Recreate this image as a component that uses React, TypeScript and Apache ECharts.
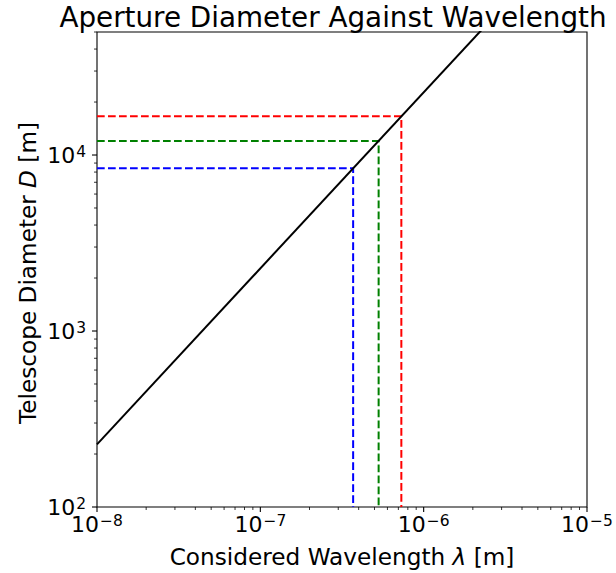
import React, { useEffect, useRef } from "react";
import * as echarts from "echarts";

const X_MIN = 1e-8;
const X_MAX = 1e-5;
const Y_MIN = 100;
const Y_MAX = 5e4;

const xMajorTicks = [1e-8, 1e-7, 1e-6, 1e-5];
const yMajorTicks = [1e2, 1e3, 1e4];
const minorMultipliers = [2, 3, 4, 5, 6, 7, 8, 9];
const xDecades = [1e-8, 1e-7, 1e-6];
const yDecades = [1e2, 1e3, 1e4];

const lineLambda = [1e-8, 1e-5];
const lineD = [227, 227000];

const markerLambda = [3.7e-7, 5.3e-7, 7.3e-7];
const markerD = [8400, 12000, 16600];
const markerColors = ["#0000ff", "#008000", "#ff0000"];

const FONT = "DejaVu Sans";

function isPow10(v: number) {
  const l = Math.log10(v);
  return Math.abs(l - Math.round(l)) < 1e-6;
}
function expLabel(v: number) {
  if (!isPow10(v)) return "";
  const e = Math.round(Math.log10(v));
  const s = e < 0 ? "\u2212" + Math.abs(e) : String(e);
  return `{b|10}{s|${s}}`;
}

const labelRich = {
  b: { fontFamily: FONT, fontSize: 22, color: "#000", lineHeight: 22, verticalAlign: "bottom" },
  s: { fontFamily: FONT, fontSize: 15.5, color: "#000", lineHeight: 16, verticalAlign: "top", padding: [0, 0, 12, 1] },
};

export default function App() {
  const ref = useRef<HTMLDivElement>(null);
  useEffect(() => {
    if (!ref.current) return;
    const chart = echarts.init(ref.current, null, { renderer: "svg" });

    const xMinor: number[] = [];
    xDecades.forEach((d) => minorMultipliers.forEach((m) => xMinor.push(d * m)));
    const yMinor: number[] = [];
    yDecades.forEach((d) => minorMultipliers.forEach((m) => { if (d * m <= Y_MAX * 1.0001) yMinor.push(d * m); }));

    // [x, y, length, direction(0=down,1=left), width]
    const tickData: number[][] = [];
    xMajorTicks.forEach((v) => tickData.push([v, Y_MIN, 5, 0, 1.1]));
    xMinor.forEach((v) => tickData.push([v, Y_MIN, 3, 0, 0.8]));
    yMajorTicks.forEach((v) => tickData.push([X_MIN, v, 5, 1, 1.1]));
    yMinor.forEach((v) => tickData.push([X_MIN, v, 3, 1, 0.8]));

    const series: any[] = [];
    markerLambda.forEach((l, i) => {
      series.push({
        type: "line",
        data: [[X_MIN, markerD[i]], [l, markerD[i]], [l, Y_MIN]],
        showSymbol: false,
        symbol: "none",
        lineStyle: { color: markerColors[i], width: 2, type: [7.7, 3.3] },
        z: 2,
      });
    });
    series.push({
      type: "line",
      data: lineLambda.map((l, i) => [l, lineD[i]]),
      showSymbol: false,
      symbol: "none",
      clip: true,
      lineStyle: { color: "#000", width: 2 },
      z: 3,
    });
    series.push({
      type: "custom",
      clip: false,
      silent: true,
      data: tickData,
      encode: { x: 0, y: 1 },
      renderItem: (params: any, api: any) => {
        const p = api.coord([api.value(0), api.value(1)]);
        const len = api.value(2);
        const dir = api.value(3);
        const w = api.value(4);
        const shape = dir === 0
          ? { x1: p[0], y1: p[1], x2: p[0], y2: p[1] + len }
          : { x1: p[0], y1: p[1], x2: p[0] - len, y2: p[1] };
        return { type: "line", shape, style: { stroke: "#000", lineWidth: w } };
      },
      z: 4,
    });

    chart.setOption({
      animation: false,
      backgroundColor: "#fff",
      grid: {
        left: 97,
        right: 29,
        top: 32,
        bottom: 66,
        show: true,
        borderColor: "#000",
        borderWidth: 1.1,
        backgroundColor: "transparent",
      },
      xAxis: {
        type: "log",
        logBase: 10,
        min: X_MIN,
        max: X_MAX,
        splitNumber: 3,
        axisLine: { show: false },
        axisTick: { show: false },
        splitLine: { show: false },
        minorTick: { show: false },
        axisLabel: {
          formatter: expLabel,
          rich: labelRich,
          margin: 6,
          showMinLabel: true,
          showMaxLabel: true,
        },
      },
      yAxis: {
        type: "log",
        logBase: 10,
        min: Y_MIN,
        max: Y_MAX,
        splitNumber: 3,
        axisLine: { show: false },
        axisTick: { show: false },
        splitLine: { show: false },
        minorTick: { show: false },
        axisLabel: {
          formatter: expLabel,
          rich: labelRich,
          margin: 11,
          showMinLabel: true,
          showMaxLabel: false,
        },
      },
      graphic: [
        {
          type: "text",
          x: 333,
          y: 17,
          style: {
            text: "Aperture Diameter Against Wavelength",
            fontFamily: FONT,
            fontSize: 27.8,
            fill: "#000",
            textAlign: "center",
            textVerticalAlign: "middle",
          },
        },
        {
          type: "text",
          x: 342,
          y: 556,
          style: {
            text: "{a|Considered Wavelength }{i|λ}{a| [m]}",
            rich: {
              a: { fontFamily: FONT, fontSize: 23.2, fill: "#000" },
              i: { fontFamily: FONT, fontSize: 23.2, fontStyle: "italic", fill: "#000" },
            },
            textAlign: "center",
            textVerticalAlign: "middle",
          },
        },
        {
          type: "text",
          x: 27,
          y: 273,
          rotation: Math.PI / 2,
          style: {
            text: "{a|Telescope Diameter }{i|D}{a| [m]}",
            rich: {
              a: { fontFamily: FONT, fontSize: 23.2, fill: "#000" },
              i: { fontFamily: FONT, fontSize: 23.2, fontStyle: "italic", fill: "#000" },
            },
            textAlign: "center",
            textVerticalAlign: "middle",
          },
        },
      ],
      series,
    });
    return () => chart.dispose();
  }, []);
  return (
    <div
      ref={ref}
      style={{ position: "fixed", left: 0, top: 0, width: 616, height: 573, background: "#fff" }}
    />
  );
}
